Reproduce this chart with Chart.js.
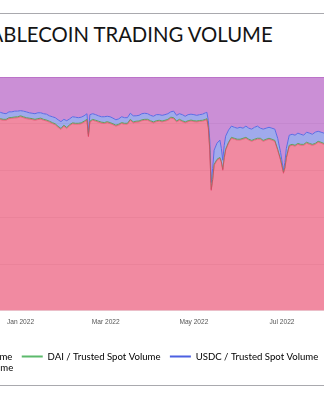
<!DOCTYPE html>
<html>
<head>
<meta charset="utf-8">
<script src="https://cdn.jsdelivr.net/npm/chart.js@4/dist/chart.umd.min.js"></script>
<style>
  html, body { margin: 0; padding: 0; width: 324px; height: 400px; overflow: hidden; background: #fff; }
  .rule { position: absolute; left: 0; width: 324px; height: 0; border-top: 1px solid #a9a9ae; }
  #title { position: absolute; top: 21.5px; left: -32px; white-space: nowrap; font: 400 20.3px/1.2 Lato, sans-serif; color: #141414; }
  #myChart { position: absolute; top: 67px; }
</style>
</head>
<body>
<div class="rule" style="top:13px"></div>
<div id="title">STABLECOIN TRADING VOLUME</div>
<canvas id="myChart"></canvas>
<div class="rule" style="top:385px"></div>
<script>
// days since 1 Jan 2022
const dayOffsets = [
  -16, -14, -12, -10, -8, -6, -4, -2, 0, 2, 4, 6, 8, 10, 12, 14,
  16, 18, 20, 22, 24, 26, 28, 30, 32, 34, 36, 38, 40, 42, 44, 46, 47,
  48, 50, 52, 54, 56, 58, 60, 62, 64, 66, 68, 70, 72, 74, 76, 78,
  80, 82, 84, 86, 88, 90, 92, 94, 96, 98, 100, 102, 104, 106, 108, 110,
  112, 114, 116, 118, 120, 122, 124, 126, 128, 129, 130, 131, 132, 133, 134, 136,
  138, 139, 140, 141, 142, 144, 146, 148, 150, 152, 154, 156, 158, 160, 162, 164,
  166, 168, 170, 172, 174, 176, 178, 180, 182, 183, 184, 186, 188, 190, 192, 194,
  196, 198, 200, 202, 204, 206, 208, 210, 212
];

// share of trusted spot volume, %
const usdtShare = [
  81.9, 81.8, 81.5, 81.5, 82.2, 82.3, 82.5, 82.6, 83.0, 82.6, 82.2, 82.0, 81.8, 81.5, 81.8, 82.0,
  81.5, 81.2, 80.7, 80.1, 79.6, 78.5, 77.6, 79.0, 78.0, 79.2, 80.0, 79.8, 79.8, 80.0, 80.7, 81.5, 74.4,
  80.7, 81.5, 81.1, 80.7, 80.3, 80.1, 80.5, 80.1, 79.6, 79.0, 79.4, 80.1, 79.8, 79.8, 81.5, 80.4,
  80.7, 80.8, 81.3, 81.5, 81.5, 80.9, 80.4, 80.9, 81.1, 80.8, 81.1, 81.5, 82.4, 82.2, 80.8, 81.5,
  80.9, 80.4, 80.9, 81.2, 80.9, 80.8, 81.0, 81.1, 81.5, 81.8, 78.1, 68.7, 51.5, 55.8, 62.2, 64.4,
  65.2, 63.5, 60.1, 65.2, 68.7, 71.7, 73.8, 73.4, 73.0, 73.0, 73.4, 73.8, 73.0, 72.5, 73.0, 73.4,
  73.4, 72.5, 73.0, 73.4, 73.0, 72.5, 68.7, 64.4, 58.8, 60.9, 65.2, 70.4, 70.8, 70.4, 71.2, 70.8,
  70.8, 71.7, 71.2, 70.8, 71.2, 72.1, 71.7, 71.2, 71.7
];
const daiShare = [
  0.4, 0.4, 0.4, 0.4, 0.4, 0.4, 0.4, 0.4, 0.4, 0.4, 0.4, 0.4, 0.4, 0.4, 0.4, 0.4,
  0.4, 0.4, 0.4, 0.4, 0.4, 0.4, 0.4, 0.4, 0.4, 0.4, 0.4, 0.4, 0.4, 0.4, 0.4, 0.4, 0.4,
  0.4, 0.4, 0.4, 0.4, 0.4, 0.4, 0.4, 0.4, 0.4, 0.4, 0.4, 0.4, 0.4, 0.4, 0.4, 0.4,
  0.4, 0.4, 0.4, 0.4, 0.4, 0.4, 0.4, 0.4, 0.4, 0.4, 0.4, 0.4, 0.4, 0.4, 0.4, 0.4,
  0.4, 0.4, 0.4, 0.4, 0.4, 0.4, 0.4, 0.4, 0.4, 0.4, 0.4, 0.4, 0.4, 0.4, 0.4, 0.4,
  0.4, 0.4, 0.4, 0.4, 0.4, 0.4, 0.4, 0.4, 0.4, 0.4, 0.4, 0.4, 0.4, 0.4, 0.4, 0.4,
  0.4, 0.4, 0.4, 0.4, 0.4, 0.4, 0.4, 0.4, 0.4, 0.4, 0.4, 0.4, 0.4, 0.4, 0.4, 0.4,
  0.4, 0.4, 0.4, 0.4, 0.4, 0.4, 0.4, 0.4, 0.4
];
const usdcShare = [
  2.4, 2.7, 2.6, 2.4, 2.5, 2.4, 2.5, 2.4, 2.2, 2.4, 2.5, 2.3, 2.3, 2.4, 2.5, 2.3,
  2.4, 2.5, 2.3, 2.5, 2.6, 2.8, 2.9, 2.5, 2.9, 2.5, 2.6, 2.6, 2.4, 2.4, 2.3, 2.4, 0.9,
  2.8, 2.4, 2.4, 2.3, 2.3, 2.5, 2.3, 2.5, 2.4, 2.3, 2.3, 2.5, 2.4, 2.4, 2.6, 2.6,
  2.3, 2.4, 2.6, 2.6, 2.4, 2.3, 2.4, 2.6, 2.4, 2.4, 2.4, 2.4, 2.3, 2.8, 2.4, 2.4,
  2.6, 2.4, 2.6, 2.5, 2.6, 2.4, 2.5, 2.6, 2.8, 2.7, 2.8, 3.9, 3.0, 4.7, 6.1, 6.9,
  7.4, 5.6, 3.9, 5.2, 5.6, 5.2, 4.8, 4.7, 4.7, 5.1, 4.3, 4.8, 4.7, 4.8, 5.1, 5.2,
  4.3, 4.8, 4.7, 4.7, 4.7, 4.8, 4.7, 3.0, 0.9, 2.2, 3.9, 4.3, 4.3, 4.3, 4.4, 4.3,
  3.9, 4.3, 4.4, 4.3, 4.8, 4.3, 4.3, 4.4, 4.3
];
const busdShare = [
  15.3, 15.1, 15.5, 15.7, 14.9, 14.9, 14.6, 14.6, 14.4, 14.6, 14.9, 15.3, 15.5, 15.7, 15.3, 15.3,
  15.7, 15.9, 16.6, 17.0, 17.4, 18.3, 19.1, 18.1, 18.7, 17.9, 17.0, 17.2, 17.4, 17.2, 16.6, 15.7, 24.3,
  16.1, 15.7, 16.1, 16.6, 17.0, 17.0, 16.8, 17.0, 17.6, 18.3, 17.9, 17.0, 17.4, 17.4, 15.5, 16.6,
  16.6, 16.4, 15.7, 15.5, 15.7, 16.4, 16.8, 16.1, 16.1, 16.4, 16.1, 15.7, 14.9, 14.6, 16.4, 15.7,
  16.1, 16.8, 16.1, 15.9, 16.1, 16.4, 16.1, 15.9, 15.3, 15.1, 18.7, 27.0, 45.1, 39.1, 31.3, 28.3,
  27.0, 30.5, 35.6, 29.2, 25.3, 22.7, 21.0, 21.5, 21.9, 21.5, 21.9, 21.0, 21.9, 22.3, 21.5, 21.0,
  21.9, 22.3, 21.9, 21.5, 21.9, 22.3, 26.2, 32.2, 39.9, 36.5, 30.5, 24.9, 24.5, 24.9, 24.0, 24.5,
  24.9, 23.6, 24.0, 24.5, 23.6, 23.2, 23.6, 24.0, 23.6
];

const seriesNames = [
  "USDT / Trusted Spot Volume",
  "DAI / Trusted Spot Volume",
  "USDC / Trusted Spot Volume",
  "BUSD / Trusted Spot Volume"
];
const tickDays = [0, 59, 120, 181];
const tickLabels = ["Jan 2022", "Mar 2022", "May 2022", "Jul 2022"];

// layout of the cropped view
const canvasLeft = -137;
const canvasWidth = 505;
const canvasHeight = 316;
const plotLeft = -2.6;   // page x of first day
const plotRight = 326.8; // page x of last day

const fills = ["rgba(232,60,98,0.6)", "rgba(76,175,80,0.6)", "rgba(97,113,223,0.6)", "rgba(168,68,187,0.6)"];
const lines = ["rgba(232,60,98,0.6)", "rgb(96,160,100)", "rgb(92,108,228)", "rgba(168,68,187,0.6)"];
const legendColors = ["rgb(236,98,130)", "rgb(92,186,108)", "rgb(76,96,226)", "rgb(176,96,200)"];

const shares = [usdtShare, daiShare, usdcShare, busdShare];

let myChart = document.getElementById("myChart");
myChart.width = canvasWidth;
myChart.height = canvasHeight;
myChart.style.left = canvasLeft + "px";

const datasets = shares.map((vals, i) => ({
  label: seriesNames[i],
  data: vals.map((v, j) => ({ x: dayOffsets[j], y: v })),
  backgroundColor: fills[i],
  borderColor: lines[i],
  borderWidth: 1,
  pointRadius: 0,
  tension: 0,
  fill: i === 0 ? "origin" : "-1"
}));

new Chart(myChart, {
  type: "line",
  data: { datasets },
  options: {
    responsive: false,
    animation: false,
    layout: { padding: { top: 10 } },
    plugins: {
      tooltip: { enabled: false },
      legend: {
        position: "bottom",
        align: "start",
        labels: {
          boxWidth: 21,
          boxHeight: 2,
          padding: 2,
          color: "#3a3a3a",
          font: { family: "Lato", size: 9.6 },
          // trailing spaces give the wider gap between items
          generateLabels: (chart) =>
            chart.data.datasets.map((ds, i) => ({
              text: ds.label + "   ",
              fillStyle: legendColors[i],
              strokeStyle: legendColors[i],
              lineWidth: 0,
              datasetIndex: i
            }))
        }
      }
    },
    scales: {
      x: {
        type: "linear",
        min: -16,
        max: 212,
        grid: { display: false, drawTicks: false },
        border: { display: false },
        afterBuildTicks: (s) => { s.ticks = tickDays.map((v) => ({ value: v })); },
        afterFit: (s) => { s.height = 39; },
        ticks: {
          autoSkip: false,
          maxRotation: 0,
          padding: 7,
          color: "#555",
          font: { family: "Liberation Sans", size: 6.6 },
          callback: (v) => tickLabels[tickDays.indexOf(v)]
        }
      },
      y: {
        stacked: true,
        min: 0,
        max: 100,
        grid: { color: "#ededed", drawTicks: false },
        border: { display: false },
        ticks: { display: false, stepSize: 20 },
        afterFit: (s) => { s.width = plotLeft - canvasLeft; }
      },
      y2: {
        type: "linear",
        position: "right",
        grid: { display: false },
        border: { display: false },
        ticks: { display: false },
        afterFit: (s) => { s.width = canvasWidth - (plotRight - canvasLeft); }
      }
    }
  }
});
</script>
</body>
</html>
